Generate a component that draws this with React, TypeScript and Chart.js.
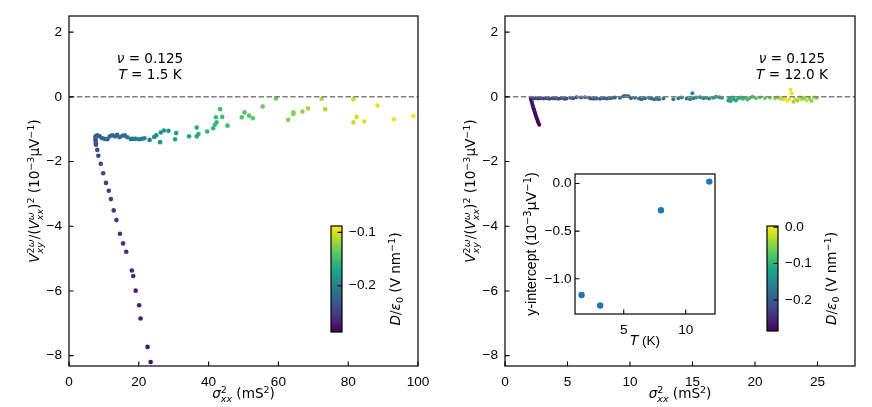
import { useEffect, useRef } from "react";
import { Chart, registerables } from "chart.js";

Chart.register(...registerables);

// ---- data ----

// left panel, T = 1.5 K (steep branch first, then the flat branch)
const leftSigma = [
  23.4, 22.5, 20.5, 20.1, 19.1, 18.4, 18.0, 16.4, 15.5, 14.6, 13.6, 12.8, 12.0, 11.4, 10.6, 9.8, 9.1, 8.4, 8.1, 7.7, 7.7, 7.6, 7.6,
  7.6, 8.1, 8.8, 9.5, 10.3, 11.0, 11.7, 12.4, 13.2, 13.8, 14.5, 15.3, 16.0, 16.7, 17.7, 18.4, 19.1, 20.1, 20.8, 21.6,
  23.1, 24.4, 25.0, 26.1, 26.3, 27.2, 28.5, 30.4, 30.7, 34.4, 36.6, 37.1, 36.6, 39.6, 41.3, 41.8, 42.3, 42.1, 43.3,
  43.9, 45.4, 49.5, 50.3, 51.6, 52.7, 55.5, 59.3, 62.8, 64.3, 64.3, 66.9, 68.5, 72.4, 73.4, 81.5, 81.5, 82.4, 84.6,
  88.4, 93.1, 98.7,
];
const leftV = [
  -8.2, -7.73, -6.85, -6.44, -5.99, -5.54, -5.37, -4.79, -4.53, -4.23, -3.81, -3.51, -3.16, -2.9, -2.66, -2.36, -2.07, -1.82, -1.64, -1.48, -1.43, -1.36, -1.3,
  -1.22, -1.19, -1.22, -1.28, -1.3, -1.31, -1.22, -1.19, -1.22, -1.17, -1.25, -1.2, -1.19, -1.25, -1.3, -1.3, -1.3, -1.31, -1.3, -1.28,
  -1.33, -1.24, -1.19, -1.4, -1.1, -1.04, -1.05, -1.31, -1.12, -1.22, -1.22, -1.15, -0.95, -1.07, -0.97, -0.86, -0.79, -0.63, -0.38,
  -0.62, -0.89, -0.63, -0.48, -0.58, -0.66, -0.3, -0.05, -0.71, -0.48, -0.53, -0.45, -0.36, -0.06, -0.38, -0.07, -0.79, -0.62, -0.76,
  -0.27, -0.69, -0.59,
];
const leftD = [
  -0.278, -0.276, -0.272, -0.27, -0.268, -0.266, -0.265, -0.262, -0.26, -0.258, -0.256, -0.254, -0.252, -0.25, -0.248, -0.246, -0.244, -0.241, -0.239, -0.237, -0.236, -0.235, -0.234,
  -0.228, -0.227, -0.226, -0.225, -0.223, -0.222, -0.221, -0.22, -0.219, -0.218, -0.217, -0.216, -0.214, -0.213, -0.211, -0.209, -0.207, -0.204, -0.202, -0.2,
  -0.196, -0.192, -0.19, -0.187, -0.186, -0.184, -0.18, -0.175, -0.174, -0.168, -0.164, -0.163, -0.164, -0.158, -0.155, -0.154, -0.153, -0.153, -0.151,
  -0.15, -0.148, -0.143, -0.142, -0.141, -0.14, -0.137, -0.132, -0.127, -0.125, -0.125, -0.122, -0.12, -0.115, -0.114, -0.104, -0.104, -0.103, -0.1,
  -0.096, -0.093, -0.09,
];

// right panel, T = 12.0 K
const rightSigma = [
  2.05, 2.08, 2.12, 2.16, 2.2, 2.24, 2.28, 2.32, 2.36, 2.4, 2.44, 2.48, 2.53, 2.58, 2.63, 2.68, 2.74,
  2.27, 2.45, 2.67, 2.88, 3.09, 3.33, 3.55, 3.79, 4.0, 4.27, 4.48, 4.75, 4.93, 5.25, 5.47, 5.73, 6.08, 6.4, 6.72, 6.88, 7.09,
  7.33, 7.6, 7.87, 8.13, 8.4, 8.59, 8.8, 9.2, 9.47, 9.65, 9.87, 10.08, 10.4, 10.72, 10.93, 11.2, 11.52, 11.73, 11.92, 12.13, 12.32,
  12.67, 13.47, 13.87, 14.13, 14.53, 14.8, 14.99, 15.07, 15.28, 15.6, 15.87, 16.13, 16.35, 16.67, 16.88, 17.15, 17.36, 17.87,
  17.95, 18.05, 18.21, 18.32, 18.48, 18.67, 18.85, 19.01, 19.2, 19.39, 19.55, 19.81, 20.08, 20.4, 20.8, 21.2, 21.6, 21.87,
  22.05, 22.27, 22.4, 22.59, 22.75, 22.85, 22.93, 23.07, 23.2, 23.39, 23.6, 23.73, 23.92, 24.13, 24.35, 24.53, 24.72, 24.93,
];
const rightV = [
  -0.03, -0.07, -0.13, -0.18, -0.24, -0.3, -0.35, -0.4, -0.45, -0.5, -0.55, -0.6, -0.65, -0.7, -0.76, -0.81, -0.86,
  -0.05, -0.04, -0.05, -0.04, -0.05, -0.04, -0.06, -0.04, -0.05, -0.06, -0.04, -0.06, -0.05, -0.03, -0.04, -0.01, -0.02, -0.01, -0.03, -0.05, -0.06,
  -0.05, -0.06, -0.04, -0.05, -0.04, -0.03, -0.02, -0.03, 0.02, 0.03, 0.02, -0.04, -0.03, -0.05, -0.07, -0.04, -0.03, -0.05, -0.07, -0.06, -0.07,
  -0.05, -0.07, -0.04, -0.02, -0.05, -0.07, 0.11, -0.04, -0.02, -0.01, -0.04, -0.03, -0.05, -0.03, 0.0, -0.01, -0.03, -0.11,
  -0.04, -0.13, -0.02, -0.08, -0.11, -0.04, -0.02, -0.06, -0.03, -0.08, -0.04, 0.0, -0.04, -0.02, -0.04, -0.03, -0.04, -0.02,
  -0.06, -0.07, -0.02, -0.12, -0.07, 0.22, 0.11, -0.15, -0.06, -0.11, -0.01, -0.07, -0.04, -0.11, -0.06, -0.13, -0.02, -0.03,
];
const rightD = [
  -0.262, -0.264, -0.266, -0.267, -0.269, -0.27, -0.271, -0.273, -0.274, -0.275, -0.276, -0.277, -0.278, -0.279, -0.28, -0.282, -0.283,
  -0.228, -0.227, -0.226, -0.225, -0.224, -0.223, -0.222, -0.221, -0.22, -0.219, -0.218, -0.216, -0.215, -0.214, -0.213, -0.211, -0.209, -0.207, -0.205, -0.204, -0.203,
  -0.202, -0.2, -0.199, -0.197, -0.196, -0.195, -0.194, -0.192, -0.191, -0.19, -0.189, -0.188, -0.186, -0.184, -0.183, -0.181, -0.179, -0.178, -0.176, -0.175, -0.174,
  -0.172, -0.166, -0.163, -0.16, -0.157, -0.155, -0.153, -0.152, -0.15, -0.148, -0.146, -0.144, -0.142, -0.14, -0.138, -0.136, -0.134, -0.122,
  -0.12, -0.118, -0.115, -0.112, -0.109, -0.105, -0.1, -0.096, -0.092, -0.088, -0.085, -0.075, -0.07, -0.066, -0.06, -0.055, -0.05, -0.045,
  -0.03, -0.02, -0.005, -0.01, -0.002, -0.004, -0.006, -0.04, -0.01, -0.045, -0.015, -0.03, -0.05, -0.02, -0.04, -0.05, -0.035, -0.06,
];

// inset: y-intercept vs temperature
const insetT = [1.6, 3.1, 8.0, 11.9];
const insetIntercept = [-1.17, -1.28, -0.28, 0.02];

// axis ranges and ticks
const leftXRange = [0, 100];
const mainYRange = [-8.32, 2.5];
const rightXRange = [0, 28];
const insetXRange = [1.07, 12.36];
const insetYRange = [-1.37, 0.1];
const cbLeftRange = [-0.287, -0.088];
const cbRightRange = [-0.285, 0.003];

const leftXTicks = [0, 20, 40, 60, 80, 100];
const rightXTicks = [0, 5, 10, 15, 20, 25];
const mainYTicks = [-8, -6, -4, -2, 0, 2];
const insetXTicks = [5, 10];
const insetYTicks = [-1.0, -0.5, 0.0];
const cbLeftTicks = [-0.2, -0.1];
const cbRightTicks = [-0.2, -0.1, 0.0];

// ---- text ----
type Run = { s: string; it?: boolean; rm?: boolean };
type Tok = Run & { sup?: Run[]; sub?: Run[] };

const yTitle: Tok[] = [
  { s: "V", it: true, sup: [{ s: "2" }, { s: "ω", it: true }], sub: [{ s: "xy", it: true }] },
  { s: "/(" },
  { s: "V", it: true, sup: [{ s: "ω", it: true }], sub: [{ s: "xx", it: true }] },
  { s: ")", sup: [{ s: "2" }] },
  { s: " (10", sup: [{ s: "−3" }] },
  { s: "μV", sup: [{ s: "−1" }] },
  { s: ")" },
];
const xTitle: Tok[] = [
  { s: "σ", it: true, sup: [{ s: "2" }], sub: [{ s: "xx", it: true }] },
  { s: " (mS", sup: [{ s: "2" }] },
  { s: ")" },
];
const cbTitle: Tok[] = [
  { s: "D", it: true },
  { s: "/" },
  { s: "ε", it: true, sub: [{ s: "0" }] },
  { s: " (V nm", sup: [{ s: "−1" }] },
  { s: ")" },
];
const insetYTitle: Tok[] = [
  { s: "y-intercept (10", rm: true, sup: [{ s: "−3" }] },
  { s: "μV", sup: [{ s: "−1" }] },
  { s: ")", rm: true },
];
const insetXTitle: Tok[] = [{ s: "T", it: true }, { s: " (K)", rm: true }];
const nuLine: Tok[] = [{ s: "ν", it: true }, { s: " = 0.125" }];
const leftTLine: Tok[] = [{ s: "T", it: true }, { s: " = 1.5 K" }];
const rightTLine: Tok[] = [{ s: "T", it: true }, { s: " = 12.0 K" }];

// ---- styling ----
const W = 872;
const H = 407;
const MATH = "'DejaVu Sans', sans-serif";
const SANS = "'Liberation Sans', Arial, sans-serif";
const FS = 13.6;
const TICK_LEN = 4.5;
const VIRIDIS = ["#440154", "#482475", "#414487", "#355f8d", "#2a788e", "#21918c", "#22a884", "#44bf70", "#7ad151", "#bddf26", "#fde725"];

function viridis(t: number) {
  const c = Math.min(1, Math.max(0, t)) * 10;
  const i = Math.min(9, Math.floor(c));
  const f = c - i;
  const a = VIRIDIS[i], b = VIRIDIS[i + 1];
  const ch = (h: string, k: number) => parseInt(h.slice(1 + 2 * k, 3 + 2 * k), 16);
  const mix = [0, 1, 2].map((k) => Math.round(ch(a, k) + (ch(b, k) - ch(a, k)) * f));
  return `rgb(${mix[0]},${mix[1]},${mix[2]})`;
}

function fmt(dec: number) {
  return (v: number) => {
    const s = Math.abs(v).toFixed(dec);
    return (v < 0 && Number(s) !== 0 ? "−" : "") + s;
  };
}

function runFont(r: Run, px: number) {
  return `${r.it ? "italic " : ""}${px}px ${r.rm ? SANS : MATH}`;
}
function runsWidth(ctx: CanvasRenderingContext2D, runs: Run[], px: number) {
  let w = 0;
  for (const r of runs) {
    ctx.font = runFont(r, px);
    w += ctx.measureText(r.s).width;
  }
  return w;
}
function drawRuns(ctx: CanvasRenderingContext2D, runs: Run[], x: number, y: number, px: number) {
  for (const r of runs) {
    ctx.font = runFont(r, px);
    ctx.fillText(r.s, x, y);
    x += ctx.measureText(r.s).width;
  }
  return x;
}
function tokWidth(ctx: CanvasRenderingContext2D, t: Tok, px: number) {
  const sp = px * 0.7;
  return (
    runsWidth(ctx, [t], px) +
    Math.max(t.sup ? runsWidth(ctx, t.sup, sp) : 0, t.sub ? runsWidth(ctx, t.sub, sp) : 0)
  );
}
function drawRich(
  ctx: CanvasRenderingContext2D,
  toks: Tok[],
  x: number,
  y: number,
  rot = 0,
  px = FS
) {
  ctx.save();
  ctx.translate(x, y);
  ctx.rotate(rot);
  ctx.fillStyle = "#000";
  ctx.textAlign = "left";
  ctx.textBaseline = "alphabetic";
  const total = toks.reduce((s, t) => s + tokWidth(ctx, t, px), 0);
  let cx = -total / 2;
  const sp = px * 0.7;
  for (const t of toks) {
    cx = drawRuns(ctx, [t], cx, 0, px);
    let w = 0;
    if (t.sup) w = Math.max(w, drawRuns(ctx, t.sup, cx, -px * 0.38, sp) - cx);
    if (t.sub) w = Math.max(w, drawRuns(ctx, t.sub, cx, px * (t.sup ? 0.3 : 0.2), sp) - cx);
    cx += w;
  }
  ctx.restore();
}

type Area = { l: number; t: number; r: number; b: number };

// size = room the tick labels get (Chart.js clips labels to the scale box)
function linScale(
  axis: "x" | "y",
  position: string,
  range: number[],
  ticks: number[],
  dec: number,
  pad: number,
  size: number
) {
  return {
    type: "linear",
    axis,
    position,
    min: range[0],
    max: range[1],
    grid: { display: false, drawTicks: false },
    border: { display: false },
    ticks: {
      color: "#000",
      font: { family: SANS, size: FS },
      padding: pad,
      autoSkip: false,
      maxRotation: 0,
      callback: (v: number | string) => fmt(dec)(Number(v)),
    },
    afterBuildTicks: (s: any) => {
      s.ticks = ticks.map((value) => ({ value }));
    },
    afterFit: (s: any) => {
      if (axis === "x") s.height = size;
      else s.width = size;
    },
  };
}

function baseOptions(area: Area, scales: any, room: { l?: number; r?: number; b?: number }) {
  return {
    responsive: false,
    animation: false,
    events: [],
    layout: {
      padding: {
        left: area.l - (room.l ?? 0),
        top: area.t,
        right: W - area.r - (room.r ?? 0),
        bottom: H - area.b - (room.b ?? 0),
      },
    },
    plugins: { legend: { display: false }, tooltip: { enabled: false } },
    scales,
  };
}

function framePlugin(
  xTicks: number[],
  yTicks: number[],
  ySide: "left" | "right",
  opts: { bg?: string; gradient?: boolean; extra?: (ctx: CanvasRenderingContext2D, a: any) => void }
) {
  return {
    id: "frame",
    beforeDatasetsDraw(chart: any) {
      const { ctx, chartArea: a } = chart;
      ctx.save();
      if (opts.bg) {
        ctx.fillStyle = opts.bg;
        ctx.fillRect(a.left, a.top, a.right - a.left, a.bottom - a.top);
      }
      if (opts.gradient) {
        const g = ctx.createLinearGradient(0, a.bottom, 0, a.top);
        VIRIDIS.forEach((c, i) => g.addColorStop(i / 10, c));
        ctx.fillStyle = g;
        ctx.fillRect(a.left, a.top, a.right - a.left, a.bottom - a.top);
      }
      ctx.restore();
    },
    afterDraw(chart: any) {
      const { ctx, chartArea: a, scales } = chart;
      ctx.save();
      ctx.strokeStyle = "#000";
      ctx.lineWidth = 1.1;
      ctx.beginPath();
      for (const v of xTicks) {
        const px = scales.x.getPixelForValue(v);
        ctx.moveTo(px, a.bottom);
        ctx.lineTo(px, a.bottom - TICK_LEN);
      }
      for (const v of yTicks) {
        const py = scales.y.getPixelForValue(v);
        const x0 = ySide === "left" ? a.left : a.right;
        ctx.moveTo(x0, py);
        ctx.lineTo(ySide === "left" ? x0 + TICK_LEN : x0 - TICK_LEN, py);
      }
      ctx.stroke();
      ctx.lineWidth = 1.2;
      ctx.strokeRect(a.left, a.top, a.right - a.left, a.bottom - a.top);
      ctx.restore();
      opts.extra?.(ctx, a);
    },
  };
}

function points(xs: number[], ys: number[]) {
  return xs.map((x, i) => ({ x, y: ys[i] }));
}

function zeroLine(range: number[]) {
  return {
    data: [
      { x: range[0], y: 0 },
      { x: range[1], y: 0 },
    ],
    showLine: true,
    borderColor: "#808080",
    borderWidth: 1.5,
    borderDash: [5.5, 2.4],
    pointRadius: 0,
  };
}

function mainConfig(
  area: Area,
  xRange: number[],
  xTicks: number[],
  sig: number[],
  v: number[],
  d: number[],
  cb: number[],
  radius: number,
  lines: Tok[][],
  textX: number
) {
  const colors = d.map((dv) => viridis((dv - cb[0]) / (cb[1] - cb[0])));
  return {
    type: "scatter",
    data: {
      datasets: [
        zeroLine(xRange),
        {
          data: points(sig, v),
          pointRadius: radius,
          pointBorderWidth: 0,
          pointBackgroundColor: colors,
          pointBorderColor: colors,
        },
      ],
    },
    options: baseOptions(
      area,
      {
        x: linScale("x", "bottom", xRange, xTicks, 0, 8, 26),
        y: linScale("y", "left", mainYRange, mainYTicks, 0, 7, 60),
      },
      { l: 60, b: 26 }
    ),
    plugins: [
      framePlugin(xTicks, mainYTicks, "left", {
        extra: (ctx, a) => {
          drawRich(ctx, yTitle, a.left - 30, (a.top + a.bottom) / 2, -Math.PI / 2);
          drawRich(ctx, xTitle, (a.left + a.right) / 2, a.bottom + 32);
          drawRich(ctx, lines[0], a.left + textX, a.top + 47.3);
          drawRich(ctx, lines[1], a.left + textX, a.top + 63.3);
        },
      }),
    ],
  };
}

function colorbarConfig(area: Area, range: number[], ticks: number[]) {
  return {
    type: "scatter",
    data: { datasets: [] },
    options: baseOptions(
      area,
      {
        x: { type: "linear", display: false, min: 0, max: 1 },
        y: linScale("y", "right", range, ticks, 1, 7, 40),
      },
      { r: 40 }
    ),
    plugins: [
      framePlugin([], ticks, "right", {
        gradient: true,
        extra: (ctx, a) => {
          drawRich(ctx, cbTitle, a.right + 58, (a.top + a.bottom) / 2, -Math.PI / 2);
        },
      }),
    ],
  };
}

function insetConfig() {
  const area = { l: 575, t: 174, r: 715, b: 314 };
  return {
    type: "scatter",
    data: {
      datasets: [
        {
          data: points(insetT, insetIntercept),
          pointRadius: 3.2,
          pointBorderWidth: 0,
          pointBackgroundColor: "#1f77b4",
        },
      ],
    },
    options: baseOptions(
      area,
      {
        x: linScale("x", "bottom", insetXRange, insetXTicks, 0, 8, 24),
        y: linScale("y", "left", insetYRange, insetYTicks, 1, 3.5, 34),
      },
      { l: 34, b: 24 }
    ),
    plugins: [
      framePlugin(insetXTicks, insetYTicks, "left", {
        bg: "#ffffff",
        extra: (ctx, a) => {
          drawRich(ctx, insetYTitle, a.left - 39, (a.top + a.bottom) / 2, -Math.PI / 2, 14.2);
          drawRich(ctx, insetXTitle, (a.left + a.right) / 2, a.bottom + 31);
        },
      }),
    ],
  };
}

function ChartCanvas({ make }: { make: () => any }) {
  const ref = useRef<HTMLCanvasElement>(null);
  useEffect(() => {
    const canvas = ref.current;
    if (!canvas) return;
    const chart = new Chart(canvas, make());
    return () => chart.destroy();
  }, [make]);
  return (
    <canvas
      ref={ref}
      width={W}
      height={H}
      style={{ position: "absolute", left: 0, top: 0, width: W, height: H }}
    />
  );
}

const makeLeft = () =>
  mainConfig({ l: 69, t: 16, r: 418, b: 366 }, leftXRange, leftXTicks, leftSigma, leftV, leftD, cbLeftRange, 2.3, [nuLine, leftTLine], 81);
const makeRight = () =>
  mainConfig({ l: 505, t: 16, r: 855, b: 366 }, rightXRange, rightXTicks, rightSigma, rightV, rightD, cbRightRange, 2, [nuLine, rightTLine], 287);
const makeInset = () => insetConfig();
const makeCbLeft = () => colorbarConfig({ l: 331, t: 226, r: 342, b: 332 }, cbLeftRange, cbLeftTicks);
const makeCbRight = () => colorbarConfig({ l: 767, t: 226, r: 778, b: 331 }, cbRightRange, cbRightTicks);

export default function App() {
  return (
    <div
      style={{
        position: "fixed",
        left: 0,
        top: 0,
        width: W,
        height: H,
        background: "#fff",
        overflow: "hidden",
      }}
    >
      <ChartCanvas make={makeLeft} />
      <ChartCanvas make={makeRight} />
      <ChartCanvas make={makeInset} />
      <ChartCanvas make={makeCbLeft} />
      <ChartCanvas make={makeCbRight} />
    </div>
  );
}
